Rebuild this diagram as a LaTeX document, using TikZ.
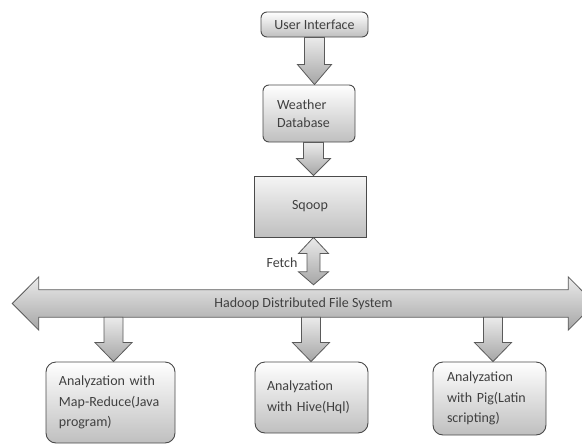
\documentclass[tikz,border=0pt]{standalone}
\usepackage{fontspec}
\setmainfont{Carlito}
\usetikzlibrary{calc,backgrounds}
\exhyphenpenalty=10000
\hyphenpenalty=10000
\definecolor{txt}{HTML}{404040}
\definecolor{edge}{HTML}{4A4A4A}
\definecolor{aedge}{HTML}{5A5A5A}
\tikzset{
  box/.style={draw=edge, line width=0.9pt, top color=white, bottom color=black!25, text=txt,
    font=\fontsize{14}{18}\selectfont, inner sep=0pt},
  rbox/.style={box, rounded corners=6pt},
  lbox/.style={box, rounded corners=10pt, align=left, font=\fontsize{14}{20.5}\selectfont},
  blk/.style={draw=aedge, line width=0.8pt, top color=black!8, bottom color=black!35},
  lbl/.style={text=txt, font=\fontsize{14}{18}\selectfont, inner sep=0pt},
}
% single down block arrow: start, tip, half shaft, half head, head length
\newcommand\blkdown[5]{%
  \path[blk] let \p1=(#1), \p2=(#2) in
    (\x1-#3,\y1) -- (\x1+#3,\y1) -- (\x1+#3,\y2+#5) -- (\x1+#4,\y2+#5) -- (\x1,\y2)
    -- (\x1-#4,\y2+#5) -- (\x1-#3,\y2+#5) -- cycle;}
% vertical double block arrow: top tip, bottom tip, half shaft, half head, top head length, bottom head length
\newcommand\blkboth[6]{%
  \path[blk] let \p1=(#1), \p2=(#2) in
    (\x1,\y1) -- (\x1+#4,\y1-#5) -- (\x1+#3,\y1-#5) -- (\x1+#3,\y2+#6) -- (\x1+#4,\y2+#6)
    -- (\x1,\y2) -- (\x1-#4,\y2+#6) -- (\x1-#3,\y2+#6) -- (\x1-#3,\y1-#5) -- (\x1-#4,\y1-#5) -- cycle;}
\begin{document}
\begin{tikzpicture}[x=1pt,y=-1pt]
\useasboundingbox (0,0) rectangle (582,445);

\node[rbox, minimum width=107pt, minimum height=25pt] (ui) at (314.5,24.5) {User Interface};
\node[rbox, minimum width=92pt, minimum height=57pt, text width=64pt, inner xsep=14pt, align=left] (wd) at (309,113.5) {Weather\\Database};
\node[box, minimum width=112pt, minimum height=61pt, top color=black!4, bottom color=black!25] (sq) at (310,206.5) {Sqoop};
\node[lbl, minimum width=529pt, minimum height=27pt] (hdfs) at (303.5,303.5) {Hadoop Distributed File System};
\node[lbl] (fetch) at (282,263) {Fetch};

\node[lbox, minimum width=129pt, minimum height=81pt, text width=103pt, inner xsep=13pt] (mr) at (110.5,402.5) {Analyzation with\\Map-Reduce(Java\\program)};
\node[lbox, minimum width=113pt, minimum height=71pt, text width=89pt, inner xsep=12pt] (hive) at (311.5,397.5) {Analyzation\\with Hive(Hql)};
\node[lbox, minimum width=113pt, minimum height=73pt, text width=85pt, inner xsep=14pt] (pig) at (489.5,398.5) {Analyzation\\with Pig(Latin\\scripting)};

\begin{pgfonlayer}{background}
  % HDFS double arrow
  \path[blk] let \p1=(hdfs.north west), \p2=(hdfs.south east), \n1={(\y1+\y2)/2} in
    (\x1,\y1) -- (\x2,\y1) -- (\x2,\y1+13pt) -- (\x2+26.5pt,\n1) -- (\x2,\y2-13pt) -- (\x2,\y2)
    -- (\x1,\y2) -- (\x1,\y2-13pt) -- (\x1-26.5pt,\n1) -- (\x1,\y1+13pt) -- cycle;
  \blkdown{ui.south}{wd.north}{10pt}{17pt}{20pt}
  \blkdown{$(wd.south)+(4.5,0)$}{sq.north}{10pt}{17pt}{17pt}
  \blkboth{$(sq.south)+(3.5,0)$}{$(hdfs.north)+(0,-5)$}{6.5pt}{15pt}{16pt}{13pt}
  \blkdown{$(hdfs.south -| mr.north)+(3,0)$}{mr.north}{9.5pt}{18.5pt}{19pt}
  \blkdown{$(hdfs.south -| hive.north)+(-0.5,0)$}{hive.north}{9.5pt}{18.5pt}{19pt}
  \blkdown{$(hdfs.south -| pig.north)+(3.5,0)$}{pig.north}{9.5pt}{18.5pt}{19pt}
\end{pgfonlayer}
\end{tikzpicture}
\end{document}
